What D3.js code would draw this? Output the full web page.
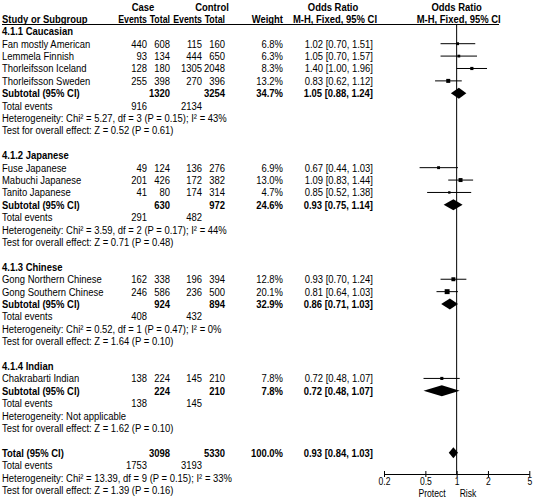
<!DOCTYPE html>
<html><head><meta charset="utf-8">
<script src="https://cdn.jsdelivr.net/npm/d3@7"></script>
<style>
body{margin:0;background:#fff}
svg text{font-family:"Liberation Sans",Arial,sans-serif;font-size:11px;fill:#000}
</style>
</head><body>
<svg id="chart" width="535" height="499"></svg>
<script>
const groupNames = ["4.1.1 Caucasian","4.1.2 Japanese","4.1.3 Chinese","4.1.4 Indian"];
const studyNames = ["Fan mostly American","Lemmela Finnish","Thorleifsson Iceland","Thorleifsson Sweden",
  "Fuse Japanese","Mabuchi Japanese","Tanito Japanese",
  "Gong Northern Chinese","Gong Southern Chinese",
  "Chakrabarti Indian"];
const studyGroup = [0,0,0,0,1,1,1,2,2,3];
const caseEvents = [440,93,128,255,49,201,41,162,246,138];
const caseTotals = [608,134,180,398,124,426,80,338,586,224];
const ctrlEvents = [115,444,1305,270,136,172,174,196,236,145];
const ctrlTotals = [160,650,2048,396,276,382,314,394,500,210];
const weights = [6.8,6.3,8.3,13.2,6.9,13.0,4.7,12.8,20.1,7.8];
const oddsRatios = [1.02,1.05,1.40,0.83,0.67,1.09,0.85,0.93,0.81,0.72];
const ciLow = [0.70,0.70,1.00,0.62,0.44,0.83,0.52,0.70,0.64,0.48];
const ciHigh = [1.51,1.57,1.96,1.12,1.03,1.44,1.38,1.24,1.03,1.07];

const subCaseTotals = [1320,630,924,224];
const subCtrlTotals = [3254,972,894,210];
const subCaseEvents = [916,291,408,138];
const subCtrlEvents = [2134,482,432,145];
const subWeights = [34.7,24.6,32.9,7.8];
const subOR = [1.05,0.93,0.86,0.72];
const subLow = [0.88,0.75,0.71,0.48];
const subHigh = [1.24,1.14,1.03,1.07];
const subHet = ["Chi\u00b2 = 5.27, df = 3 (P = 0.15); I\u00b2 = 43%","Chi\u00b2 = 3.59, df = 2 (P = 0.17); I\u00b2 = 44%","Chi\u00b2 = 0.52, df = 1 (P = 0.47); I\u00b2 = 0%","Not applicable"];
const subZ = ["Z = 0.52 (P = 0.61)","Z = 0.71 (P = 0.48)","Z = 1.64 (P = 0.10)","Z = 1.62 (P = 0.10)"];

const totalTotals = [3098,5330];
const totalEvents = [1753,3193];
const totalWeight = [100.0];
const totalEffect = [0.93,0.84,1.03];
const totalHet = ["Chi\u00b2 = 13.39, df = 9 (P = 0.15); I\u00b2 = 33%"];
const totalZ = ["Z = 1.39 (P = 0.16)"];

const tickValues = [0.2,0.5,1,2,5];
const tickLabels = ["0.2","0.5","1","2","5"];
const favourLabels = ["Protect","Risk"];

// ---------- build rows ----------
const rows = [];
rows.push({type:"h1"}); rows.push({type:"h2"});
groupNames.forEach((g,gi)=>{
  rows.push({type:"group",label:g});
  studyNames.forEach((s,i)=>{ if(studyGroup[i]===gi) rows.push({type:"study",i}); });
  rows.push({type:"sub",gi});
  rows.push({type:"events",a:subCaseEvents[gi],b:subCtrlEvents[gi]});
  rows.push({type:"text",label:"Heterogeneity: "+subHet[gi]});
  rows.push({type:"text",label:"Test for overall effect: "+subZ[gi]});
  rows.push({type:"blank"});
});
rows.push({type:"total"});
rows.push({type:"events",a:totalEvents[0],b:totalEvents[1]});
rows.push({type:"text",label:"Heterogeneity: "+totalHet[0]});
rows.push({type:"text",label:"Test for overall effect: "+totalZ[0]});

const svg = d3.select("#chart");
const y = d3.scaleLinear().domain([0,rows.length-1]).range([6.5,490]);
const x = d3.scaleLog().domain([0.2,5]).range([384,529.3]);
const col = {name:2, ce:147, ct:170, ke:202, kt:225, w:283, ci:373};
const fmtW = w => w.toFixed(1)+"%";
const fmtCI = (o,l,h) => o.toFixed(2)+" ["+l.toFixed(2)+", "+h.toFixed(2)+"]";
const BL = 4;
const SX = 0.86;

function txt(xp, yc, s, anchor, bold, sx, fs){
  const t = svg.append("text")
    .attr("transform",`translate(${xp},${yc+BL}) scale(${sx||SX},1)`)
    .attr("text-anchor",anchor||"start")
    .attr("font-weight",bold?"bold":null).text(s);
  if(fs) t.style("font-size",fs+"px");
  return t;
}

// header line
svg.append("line").attr("x1",2).attr("x2",499).attr("y1",24.5).attr("y2",24.5)
  .attr("stroke","#000").attr("stroke-width",1);

// null line
svg.append("line").attr("x1",x(1)).attr("x2",x(1)).attr("y1",24.5).attr("y2",474)
  .attr("stroke","#000").attr("stroke-width",1);

rows.forEach((r,ri)=>{
  const yc = y(ri);
  if(r.type==="h1"){
    txt(143,yc,"Case","middle",true);
    txt(212,yc,"Control","middle",true);
    txt(333,yc,"Odds Ratio","middle",true);
    txt(x(1),yc,"Odds Ratio","middle",true);
  } else if(r.type==="h2"){
    txt(col.name,yc,"Study or Subgroup","start",true);
    txt(col.ce,yc,"Events","end",true,0.8);
    txt(col.ct,yc,"Total","end",true,0.8);
    txt(col.ke,yc,"Events","end",true,0.8);
    txt(col.kt,yc,"Total","end",true,0.8);
    txt(col.w,yc,"Weight","end",true);
    txt(335,yc,"M-H, Fixed, 95% CI","middle",true);
    txt(x(1)+2,yc,"M-H, Fixed, 95% CI","middle",true);
  } else if(r.type==="group"){
    txt(col.name,yc,r.label,"start",true);
  } else if(r.type==="study"){
    const i=r.i;
    txt(col.name,yc,studyNames[i]);
    txt(col.ce,yc,caseEvents[i],"end");
    txt(col.ct,yc,caseTotals[i],"end");
    txt(col.ke,yc,ctrlEvents[i],"end");
    txt(col.kt,yc,ctrlTotals[i],"end");
    txt(col.w,yc,fmtW(weights[i]),"end");
    txt(col.ci,yc,fmtCI(oddsRatios[i],ciLow[i],ciHigh[i]),"end");
    svg.append("line").attr("x1",x(ciLow[i])).attr("x2",x(ciHigh[i]))
      .attr("y1",yc).attr("y2",yc).attr("stroke","#000").attr("stroke-width",1);
    const s = 1.1*Math.sqrt(weights[i]);
    svg.append("rect").attr("x",x(oddsRatios[i])-s/2).attr("y",yc-s/2)
      .attr("width",s).attr("height",s).attr("fill","#000");
  } else if(r.type==="sub"){
    const g=r.gi;
    txt(col.name,yc,"Subtotal (95% CI)","start",true);
    txt(col.ct,yc,subCaseTotals[g],"end",true);
    txt(col.kt,yc,subCtrlTotals[g],"end",true);
    txt(col.w,yc,fmtW(subWeights[g]),"end",true);
    txt(col.ci,yc,fmtCI(subOR[g],subLow[g],subHigh[g]),"end",true);
    diamond(subOR[g],subLow[g],subHigh[g],yc);
  } else if(r.type==="events"){
    txt(col.name,yc,"Total events");
    txt(col.ce,yc,r.a,"end");
    txt(col.ke,yc,r.b,"end");
  } else if(r.type==="text"){
    txt(col.name,yc,r.label);
  } else if(r.type==="total"){
    txt(col.name,yc,"Total (95% CI)","start",true);
    txt(col.ct,yc,totalTotals[0],"end",true);
    txt(col.kt,yc,totalTotals[1],"end",true);
    txt(col.w,yc,fmtW(totalWeight[0]),"end",true);
    txt(col.ci,yc,fmtCI(totalEffect[0],totalEffect[1],totalEffect[2]),"end",true);
    diamond(totalEffect[0],totalEffect[1],totalEffect[2],yc);
  }
});

function diamond(o,l,h,yc){
  const hh=5.5;
  svg.append("path").attr("d",`M${x(l)},${yc}L${x(o)},${yc-hh}L${x(h)},${yc}L${x(o)},${yc+hh}Z`)
    .attr("fill","#000");
}

// axis
const axis = d3.axisBottom(x).tickValues(tickValues).tickFormat((d,i)=>tickLabels[i])
  .tickSize(3).tickSizeOuter(0).tickPadding(1);
const ag = svg.append("g").attr("transform","translate(0,474)").call(axis);
ag.attr("font-size",null).attr("font-family",null);
ag.select(".domain").attr("stroke","#000");
ag.selectAll(".tick line").attr("y1",-3).attr("y2",3).attr("stroke","#000");
ag.selectAll(".tick text").attr("fill","#000").attr("transform",`scale(${SX},1)`)
  .style("font-size","10px");

txt(x(1)-11,492.5,favourLabels[0],"end",false,SX,10);
txt(x(1)+3,492.5,favourLabels[1],"start",false,SX,10);
</script>
</body></html>
